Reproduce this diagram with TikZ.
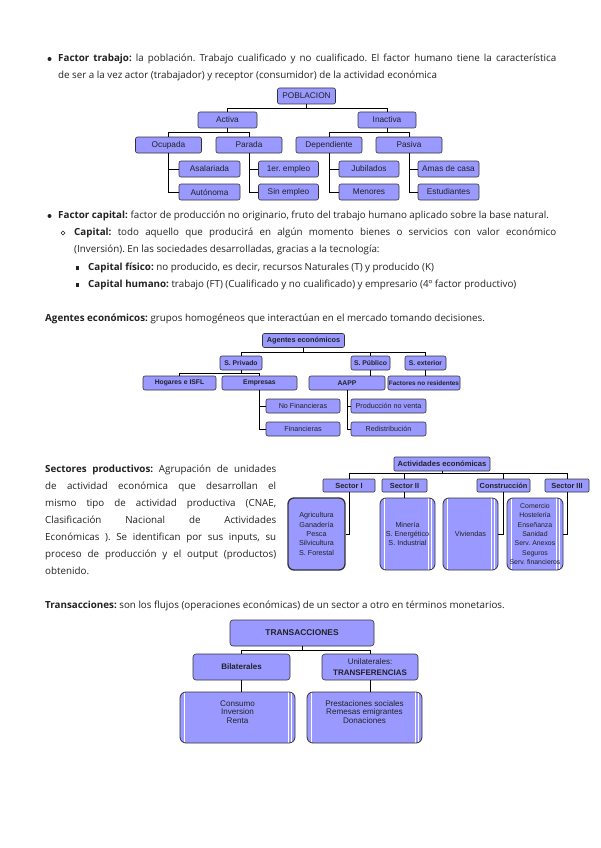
\documentclass[tikz,border=0pt]{standalone}
\usepackage{fontspec}
\setmainfont{Open Sans}
\newfontfamily\arialfont{Liberation Sans}
\usepackage{tikz}
\definecolor{lila}{HTML}{9999FF}
\definecolor{tinta}{HTML}{222222}
\frenchspacing

\begin{document}
\begin{tikzpicture}[
    x=1pt, y=-1pt,
    every node/.style={font=\arialfont\fontsize{7}{8}\selectfont, text=tinta},
    txt/.style={font=\fontsize{9.8}{17}\selectfont, anchor=north west,
                inner sep=0pt, align=justify},
    bx/.style={rectangle, rounded corners=2pt, draw=black!80, fill=lila,
               line width=0.6pt, inner sep=1pt},
    pb/.style={bx, minimum height=16pt, font=\arialfont\fontsize{8.3}{9}\selectfont},
    ag/.style={bx, minimum height=14pt, font=\arialfont\bfseries\fontsize{6.8}{7.5}\selectfont},
    agn/.style={ag, font=\arialfont\fontsize{7.2}{8}\selectfont},
    sec/.style={bx, rounded corners=1pt, minimum height=13pt,
                font=\arialfont\bfseries\fontsize{7.4}{8}\selectfont},
    big/.style={bx, rounded corners=6pt, line width=0.8pt, align=center,
                font=\arialfont\fontsize{7.2}{9.3}\selectfont},
    pages/.style={path picture={
        \draw[white, line width=0.6pt]
          ([xshift=4pt]path picture bounding box.north west) --
          ([xshift=4pt]path picture bounding box.south west);
        \draw[white, line width=0.6pt]
          ([xshift=-4pt]path picture bounding box.north east) --
          ([xshift=-4pt]path picture bounding box.south east);
        \draw[white, line width=0.6pt]
          ([xshift=-7pt]path picture bounding box.north east) --
          ([xshift=-7pt]path picture bounding box.south east);}},
    tr/.style={bx, rounded corners=3pt, minimum height=26pt, align=center,
               font=\arialfont\bfseries\fontsize{8}{10.5}\selectfont},
    c/.style={draw=black, line width=1pt},
  ]
  \fill[white] (0,0) rectangle (600,848);
  \useasboundingbox (0,0) rectangle (600,848);

  % factor trabajo
  \fill[tinta] (49.5,59) circle (2);
  \node[txt, text width=498pt] (ftrab) at (58,54) {\textbf{Factor trabajo:} la población. Trabajo cualificado y no cualificado. El factor humano tiene la característica\linebreak de ser a la vez actor (trabajador) y receptor (consumidor) de la actividad económica};

  \node[pb, minimum width=58pt] (pob) at (306.5,96) {POBLACION};
  \node[pb, minimum width=59pt] (act) at (227.5,120) {Activa};
  \node[pb, minimum width=58pt] (inact) at (387,120) {Inactiva};
  \node[pb, minimum width=66pt] (ocu) at (168.5,145) {Ocupada};
  \node[pb, minimum width=66pt] (par) at (249,145) {Parada};
  \node[pb, minimum width=66pt] (dep) at (329,145) {Dependiente};
  \node[pb, minimum width=66pt] (pas) at (409,145) {Pasiva};
  \node[pb, minimum width=61pt] (asal) at (209.5,169) {Asalariada};
  \node[pb, minimum width=61pt] (auton) at (209.5,192) {Autónoma};
  \node[pb, minimum width=60pt] (primer) at (288.5,169) {1er. empleo};
  \node[pb, minimum width=60pt] (sinemp) at (288.5,192) {Sin empleo};
  \node[pb, minimum width=60pt] (jub) at (369,169) {Jubilados};
  \node[pb, minimum width=60pt] (men) at (369,192) {Menores};
  \node[pb, minimum width=61pt] (amas) at (448.5,169) {Amas de casa};
  \node[pb, minimum width=61pt] (estud) at (448.5,192) {Estudiantes};
  \draw[c] (pob.south) -- ++(0,4) coordinate (j1);
  \draw[c] (act.north) |- (j1) -| (inact.north);
  \draw[c] (act.south) -- ++(0,4.5) coordinate (j2);
  \draw[c] (ocu.north) |- (j2) -| (par.north);
  \draw[c] (inact.south) -- ++(0,4.5) coordinate (j3);
  \draw[c] (dep.north) |- (j3) -| (pas.north);
  \draw[c] (ocu.south) |- (asal.west);
  \draw[c] (ocu.south) |- (auton.west);
  \draw[c] (par.south) |- (primer.west);
  \draw[c] (par.south) |- (sinemp.west);
  \draw[c] (dep.south) |- (jub.west);
  \draw[c] (dep.south) |- (men.west);
  \draw[c] (pas.south) |- (amas.west);
  \draw[c] (pas.south) |- (estud.west);

  % factor capital
  \fill[tinta] (49.5,216) circle (2);
  \node[txt] (fcap) at (58,211) {\textbf{Factor capital:} factor de producción no originario, fruto del trabajo humano aplicado sobre la base natural.};
  \draw[tinta, line width=0.5pt] (63,233) circle (1.9);
  \node[txt, text width=482pt] (cap) at (74,228) {\textbf{Capital:} todo aquello que producirá en algún momento bienes o servicios con valor económico\linebreak (Inversión). En las sociedades desarrolladas, gracias a la tecnología:};
  \fill[tinta] (75.5,266.3) rectangle (79,269.8);
  \node[txt] (capf) at (88,263) {\textbf{Capital físico:} no producido, es decir, recursos Naturales (T) y producido (K)};
  \fill[tinta] (75.5,283.3) rectangle (79,286.8);
  \node[txt] (caph) at (88,280) {\textbf{Capital humano:} trabajo (FT) (Cualificado y no cualificado) y empresario (4º factor productivo)};

  % agentes
  \node[txt] (agt) at (45,314) {\textbf{Agentes económicos:} grupos homogéneos que interactúan en el mercado tomando decisiones.};
  \node[ag, minimum width=82pt, font=\arialfont\bfseries\fontsize{7.3}{8}\selectfont] (agen) at (303.5,340.5) {Agentes económicos};
  \node[ag, minimum width=42pt] (spriv) at (241,363) {S. Privado};
  \node[ag, minimum width=39pt] (spub) at (370.5,363) {S. Público};
  \node[ag, minimum width=41pt] (sext) at (425.5,363) {S. exterior};
  \node[ag, minimum width=73pt] (hog) at (179.5,383) {Hogares e ISFL};
  \node[ag, minimum width=75pt] (empr) at (259.5,383) {Empresas};
  \node[ag, minimum width=76pt] (aapp) at (347,383) {AAPP};
  \node[ag, minimum width=72pt, font=\arialfont\bfseries\fontsize{6.4}{7}\selectfont] (fnr) at (424,383) {Factores no residentes};
  \node[agn, minimum width=74pt] (nofin) at (303,406) {No Financieras};
  \node[agn, minimum width=74pt] (fin) at (303,429) {Financieras};
  \node[agn, minimum width=75pt] (prod) at (388.5,406) {Producción no venta};
  \node[agn, minimum width=75pt] (redis) at (388.5,429) {Redistribución};
  \draw[c] (agen.south) -- ++(0,5) coordinate (j4);
  \draw[c] (spriv.north) |- (j4) -| (sext.north);
  \draw[c] (spub.north) |- (j4);
  \draw[c] (spriv.south) -- ++(0,3.5) coordinate (j5);
  \draw[c] (hog.north) |- (j5) -| (empr.north);
  \draw[c] (empr.south) |- (nofin.west);
  \draw[c] (empr.south) |- (fin.west);
  \draw[c] (spub.south) -- (spub.south |- aapp.north);
  \draw[c] (aapp.south) |- (prod.west);
  \draw[c] (aapp.south) |- (redis.west);
  \draw[c] (sext.south) -- (sext.south |- fnr.north);

  % sectores
  \node[txt, text width=231pt] (sect) at (45,465) {\textbf{Sectores productivos:} Agrupación de unidades\linebreak de actividad económica que desarrollan el\linebreak mismo tipo de actividad productiva (CNAE,\linebreak Clasificación Nacional de Actividades\linebreak Económicas ). Se identifican por sus inputs, su\linebreak proceso de producción y el output (productos)\linebreak obtenido.};
  \node[sec, minimum width=96pt, minimum height=14pt, font=\arialfont\bfseries\fontsize{7.6}{8}\selectfont] (actv) at (442,464) {Actividades económicas};
  \node[sec, minimum width=52pt] (s1) at (349,485.5) {Sector I};
  \node[sec, minimum width=45pt] (s2) at (404.5,485.5) {Sector II};
  \node[sec, minimum width=53pt] (cons) at (503.5,485.5) {Construcción};
  \node[sec, minimum width=44pt] (s3) at (567,485.5) {Sector III};
  \node[big, line width=1.3pt, minimum width=57pt, minimum height=72pt] (agri) at (316.5,534) {Agricultura\\Ganadería\\Pesca\\Silvicultura\\S. Forestal};
  \node[big, pages, minimum width=55pt, minimum height=72pt] (mine) at (407.5,534) {Minería\\S. Energético\\S. Industrial};
  \node[big, pages, minimum width=55pt, minimum height=72pt] (viv) at (470.5,534) {Viviendas};
  \node[big, pages, minimum width=56pt, minimum height=72pt, inner sep=0pt, font=\arialfont\fontsize{6.9}{9.3}\selectfont] (serv) at (535,534) {Comercio\\Hostelería\\Enseñanza\\Sanidad\\Serv. Anexos\\Seguros\\Serv. financieros};
  \draw[c] (actv.south) -- ++(0,2) coordinate (j6);
  \draw[c] (s1.north) |- (j6) -| (s3.north);
  \draw[c] (s2.north) |- (j6) -| (cons.north);
  \draw[c] (s1.south) |- (agri.east);
  \draw[c] (s2.south) -- (s2.south |- mine.north);
  \draw[c] (cons.south) |- (viv.east);
  \draw[c] (s3.south) |- (serv.east);

  % transacciones
  \node[txt] (trt) at (45,601) {\textbf{Transacciones:} son los flujos (operaciones económicas) de un sector a otro en términos monetarios.};
  \node[tr, minimum width=144pt, font=\arialfont\bfseries\fontsize{8.4}{10}\selectfont] (tra) at (302,633) {TRANSACCIONES};
  \node[tr, minimum width=97pt] (bil) at (241.5,667) {Bilaterales};
  \node[tr, minimum width=96pt] (uni) at (370,667) {\mdseries Unilaterales:\\TRANSFERENCIAS};
  \node[big, pages, minimum width=115pt, minimum height=51pt, font=\arialfont\fontsize{8.1}{8.4}\selectfont] (bilat) at (237.5,717.5) {Consumo\\Inversion\\Renta\\[3pt]};
  \node[big, pages, minimum width=115pt, minimum height=51pt, font=\arialfont\fontsize{8.1}{8.4}\selectfont] (unilat) at (364.5,717.5) {Prestaciones sociales\\Remesas emigrantes\\Donaciones\\[3pt]};
  \draw[c] (tra.south) -- ++(0,4) coordinate (j7);
  \draw[c] (bil.north) |- (j7) -| (uni.north);
  \draw[c] (bil.south) -- (bil.south |- bilat.north);
  \draw[c] (uni.south) -- (uni.south |- unilat.north);
\end{tikzpicture}
\end{document}
